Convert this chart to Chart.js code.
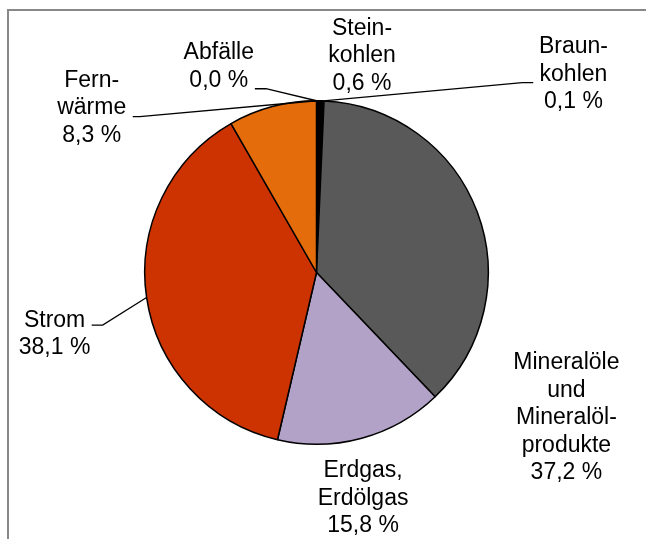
<!DOCTYPE html>
<html>
<head>
<meta charset="utf-8">
<script src="https://cdn.jsdelivr.net/npm/chart.js@4.4.1/dist/chart.umd.min.js"></script>
<style>
  html, body { margin: 0; padding: 0; background: #ffffff; }
  canvas { display: block; }
</style>
</head>
<body>
<canvas id="c" width="646" height="539"></canvas>
<script>
// ---- data ----
const categories = ['Steinkohlen', 'Braunkohlen', 'Mineralöle und Mineralölprodukte', 'Erdgas, Erdölgas', 'Strom', 'Fernwärme', 'Abfälle'];
const shares = [0.6, 0.1, 37.2, 15.8, 38.1, 8.3, 0.0];
const labelLines = [
  ['Stein-', 'kohlen'],
  ['Braun-', 'kohlen'],
  ['Mineralöle', 'und', 'Mineralöl-', 'produkte'],
  ['Erdgas,', 'Erdölgas'],
  ['Strom'],
  ['Fern-', 'wärme'],
  ['Abfälle']
];

// ---- styles / layout (relative to pie centre, in radius units) ----
const sliceColors = ['#000000', '#5a2d0c', '#595959', '#b3a2c7', '#cc3300', '#e46c0a', '#7f7f7f'];
const labelPos = [
  [0.265, -1.262],
  [1.496, -1.152],
  [1.455, 0.848],
  [0.271, 1.315],
  [-1.525, 0.359],
  [-1.309, -0.959],
  [-0.569, -1.198]
];
// leader: [fromX, fromY, kneeX, kneeY, anchorFraction along arc] or null
const leaders = [
  null,
  [1.262, -1.105, 1.198, -1.105, 0.5],
  null,
  null,
  [-1.309, 0.306, -1.245, 0.306, 0.5],
  [-1.070, -0.907, -1.029, -0.907, 1.0],
  [-0.359, -1.070, -0.294, -1.070, 0.5]
];
const FONT = '23px "Liberation Sans", Arial, sans-serif';
const LINE_H = 27.5;

function fmt(v) { return v.toFixed(1).replace('.', ',') + ' %'; }

const labelPlugin = {
  id: 'labels',
  afterDraw(chart) {
    const ctx = chart.ctx;
    const meta = chart.getDatasetMeta(0);
    const arc0 = meta.data[0];
    const cx = arc0.x, cy = arc0.y, r = arc0.outerRadius;
    ctx.save();
    // frame
    ctx.strokeStyle = '#888888';
    ctx.lineWidth = 2;
    ctx.beginPath();
    ctx.moveTo(8, 539);
    ctx.lineTo(8, 10);
    ctx.lineTo(646, 10);
    ctx.stroke();

    // leader lines
    ctx.strokeStyle = '#000000';
    ctx.lineWidth = 1.3;
    leaders.forEach((ld, i) => {
      if (!ld) return;
      const a = meta.data[i];
      const ang = a.startAngle + (a.endAngle - a.startAngle) * ld[4];
      const ex = cx + Math.cos(ang) * r;
      const ey = cy + Math.sin(ang) * r;
      ctx.beginPath();
      ctx.moveTo(cx + ld[0] * r, cy + ld[1] * r);
      ctx.lineTo(cx + ld[2] * r, cy + ld[3] * r);
      ctx.lineTo(ex, ey);
      ctx.stroke();
    });

    // labels
    ctx.fillStyle = '#000000';
    ctx.font = FONT;
    ctx.textAlign = 'center';
    ctx.textBaseline = 'middle';
    labelLines.forEach((lines, i) => {
      const all = lines.concat([fmt(shares[i])]);
      const x = cx + labelPos[i][0] * r;
      const yc = cy + labelPos[i][1] * r;
      const y0 = yc - (all.length - 1) * LINE_H / 2;
      all.forEach((t, k) => ctx.fillText(t, x, y0 + k * LINE_H));
    });
    ctx.restore();
  }
};

new Chart(document.getElementById('c'), {
  type: 'pie',
  data: {
    labels: categories,
    datasets: [{
      data: shares,
      backgroundColor: sliceColors,
      borderColor: '#000000',
      borderWidth: 1.5
    }]
  },
  options: {
    responsive: false,
    animation: false,
    layout: { padding: { left: 144, top: 100, right: 157, bottom: 94 } },
    plugins: { legend: { display: false }, tooltip: { enabled: false } }
  },
  plugins: [labelPlugin]
});
</script>
</body>
</html>
